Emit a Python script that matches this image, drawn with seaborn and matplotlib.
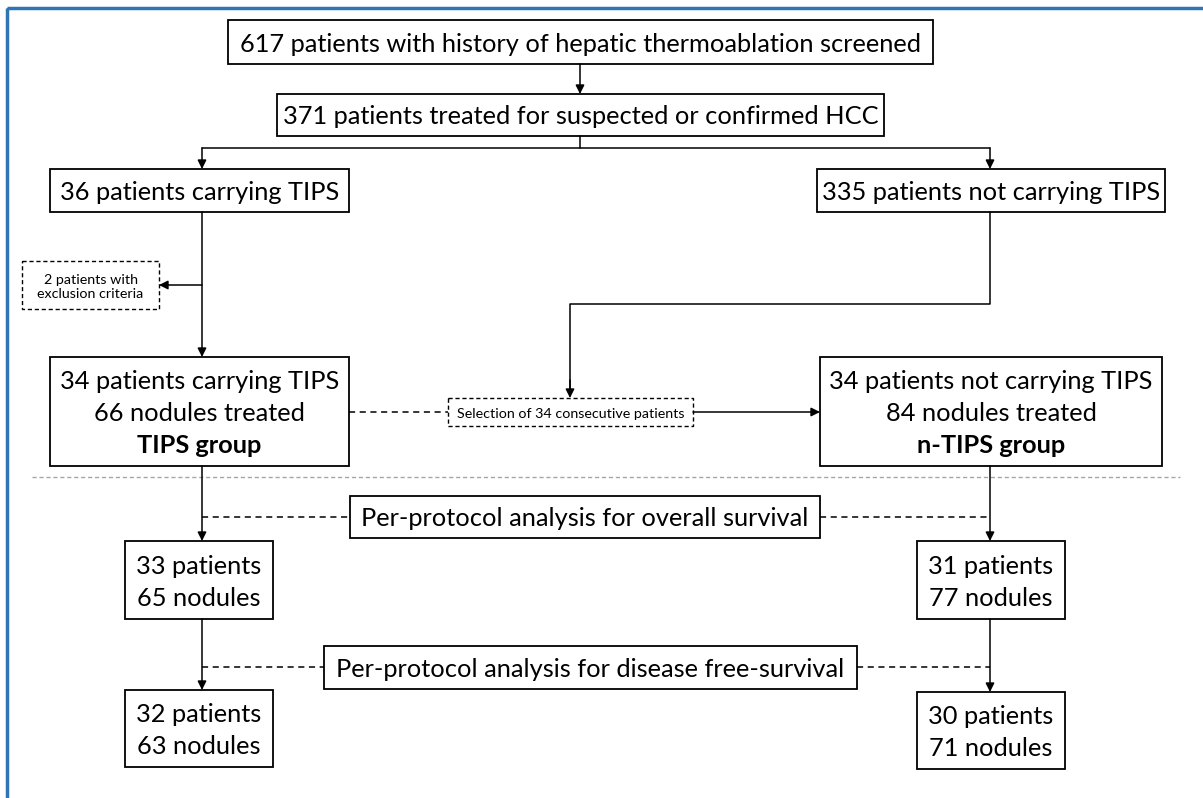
import matplotlib.pyplot as plt
import seaborn as sns
from matplotlib.patches import Rectangle

sns.set_theme(style="white")
plt.rcParams["font.family"] = ["Lato", "DejaVu Sans"]

# box texts
screened = "617 patients with history of hepatic thermoablation screened"
treated_hcc = "371 patients treated for suspected or confirmed HCC"
tips_all = "36 patients carrying TIPS"
ntips_all = "335 patients not carrying TIPS"
excluded = "2 patients with\nexclusion criteria"
selection = "Selection of 34 consecutive patients"
tips_group = ["34 patients carrying TIPS", "66 nodules treated", "TIPS group"]
ntips_group = ["34 patients not carrying TIPS", "84 nodules treated", "n-TIPS group"]
os_label = "Per-protocol analysis for overall survival"
dfs_label = "Per-protocol analysis for disease free-survival"
tips_os = ["33 patients", "65 nodules"]
ntips_os = ["31 patients", "77 nodules"]
tips_dfs = ["32 patients", "63 nodules"]
ntips_dfs = ["30 patients", "71 nodules"]

FS = 18.3
SMALL = 10.3

fig = plt.figure(figsize=(12.03, 7.98), dpi=100)
ax = fig.add_axes([0, 0, 1, 1])
ax.set_xlim(0, 1203)
ax.set_ylim(798, 0)
ax.axis("off")

# outer blue frame
ax.add_patch(Rectangle((7, 8), 1210, 800, fill=False, ec="#2E75B6", lw=2.5))


def box(x0, x1, y0, y1, lines, dashed=False, size=FS, bold_last=False, spacing=32):
    ax.add_patch(Rectangle((x0, y0), x1 - x0, y1 - y0, fill=False, ec="black",
                           lw=1.0 if dashed else 1.3, ls=(0, (3, 2)) if dashed else "-"))
    if isinstance(lines, str):
        ax.text((x0 + x1) / 2, (y0 + y1) / 2 + 2, lines, ha="center", va="center",
                fontsize=size, color="black", linespacing=1.25)
        return
    n = len(lines)
    yc = (y0 + y1) / 2 + 2
    for i, t in enumerate(lines):
        y = yc + (i - (n - 1) / 2) * spacing
        bold = bold_last and i == n - 1
        ax.text((x0 + x1) / 2, y, t, ha="center", va="center", fontsize=size,
                color="black", fontweight="bold" if bold else "normal")


def arrow(x0, y0, x1, y1):
    ax.annotate("", xy=(x1, y1), xytext=(x0, y0),
                arrowprops=dict(arrowstyle="-|>", color="black", lw=1.1,
                                mutation_scale=13, shrinkA=0, shrinkB=0))


def line(xs, ys, dashed=False, color="black"):
    ax.plot(xs, ys, color=color, lw=1.1, ls=(0, (4, 3)) if dashed else "-")


box(228, 933, 20, 64, screened)
box(277, 884, 94, 136, treated_hcc)
box(50, 349, 169, 212, tips_all)
box(817, 1165, 169, 212, ntips_all)
box(22, 159, 261, 309, excluded, dashed=True, size=SMALL)
box(50, 349, 357, 466, tips_group, bold_last=True)
box(820, 1162, 357, 466, ntips_group, bold_last=True)
box(448, 693, 398, 426, selection, dashed=True, size=SMALL)
box(350, 820, 496, 538, os_label)
box(125, 273, 541, 619, tips_os)
box(917, 1065, 541, 619, ntips_os)
box(324, 857, 646, 689, dfs_label)
box(125, 273, 690, 767, tips_dfs)
box(917, 1065, 692, 769, ntips_dfs)

# top flow
arrow(580, 64, 580, 94)
line([580, 580], [136, 148])
line([202, 990], [148, 148])
arrow(202, 148, 202, 169)
arrow(990, 148, 990, 169)

# TIPS branch
arrow(202, 212, 202, 357)
arrow(202, 285, 159, 285)

# non-TIPS branch to selection
line([990, 990, 570, 570], [212, 304, 304, 390])
arrow(570, 380, 570, 398)
line([349, 448], [412, 412], dashed=True)
arrow(693, 412, 820, 412)

# separator
ax.plot([32, 1180], [477, 477], color="#A6A6A6", lw=1.0, ls=(0, (3, 2)))

# per-protocol analyses
arrow(202, 466, 202, 541)
arrow(990, 466, 990, 541)
line([202, 350], [517, 517], dashed=True)
line([820, 990], [517, 517], dashed=True)

arrow(202, 619, 202, 690)
arrow(990, 619, 990, 692)
line([202, 324], [667, 667], dashed=True)
line([857, 990], [667, 667], dashed=True)

fig.savefig("out.png", dpi=100)
